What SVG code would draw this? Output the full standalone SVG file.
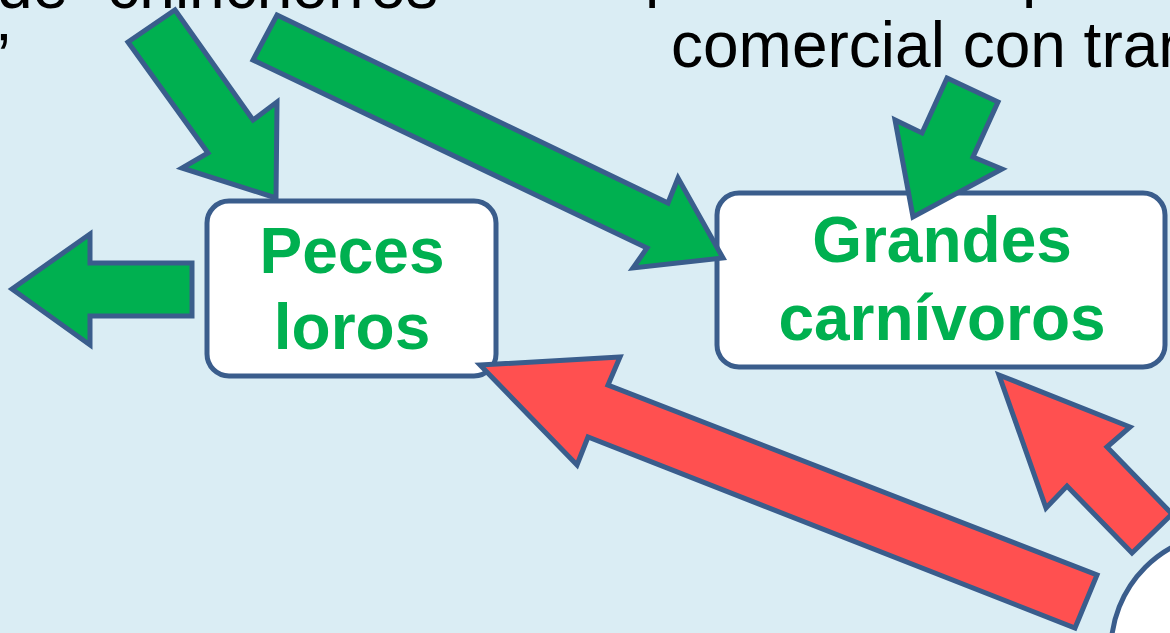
<svg xmlns="http://www.w3.org/2000/svg" width="1170" height="633" viewBox="0 0 1170 633">
<style>
.bg{fill:#DAEDF4}
.txt{font-family:"Liberation Sans",Arial,sans-serif;font-size:64px;fill:#000}
.box{fill:#FFFFFF;stroke:#3A5D8C;stroke-width:5}
.lbl{font-family:"Liberation Sans",Arial,sans-serif;font-size:64px;font-weight:bold;fill:#00B050;text-anchor:middle}
.ga{fill:#00B050;stroke:#3A5D8C;stroke-width:5;stroke-linejoin:miter}
.ra{fill:#FF5050;stroke:#3A5D8C;stroke-width:5;stroke-linejoin:miter}
</style>
<rect class="bg" x="0" y="0" width="1170" height="633"/>
<g id="text-top">
<text class="txt" x="-3" y="8">de “chinchorros”</text>
<text class="txt" x="-12" y="79">”</text>
<text class="txt" x="645" y="-5">p</text>
<text class="txt" x="1022" y="-5">p</text>
<text class="txt" x="671" y="67">comercial con tram</text>
</g>
<g id="node-peces-loros">
<rect class="box" x="207" y="201" width="289" height="175" rx="22"/>
<text class="lbl" x="352" y="273">Peces</text>
<text class="lbl" x="352" y="349">loros</text>
</g>
<g id="node-grandes-carnivoros">
<rect class="box" x="717" y="193" width="448" height="174" rx="22"/>
<text class="lbl" x="942" y="262">Grandes</text>
<text class="lbl" x="942" y="340">carnívoros</text>
</g>
<g id="node-circle">
<circle class="box" cx="1228" cy="650" r="117"/>
</g>
<g id="connectors">
<polygon class="ga" points="12,289 90,234 90,263 192,263 192,316 90,316 90,345"/>
<polygon class="ga" points="128,42 175,10 253,120 277,102 276,198 182,168 208,153"/>
<polygon class="ga" points="277,15 668,203 678,178 723,258 633,268 647,248 253,60"/>
<polygon class="ga" points="947,78 998,102 973,157 1002,169 913,217 895,120 922,133"/>
<polygon class="ra" points="480,365 620,357 608,385 1097,575 1075,628 588,437 577,465"/>
<polygon class="ra" points="999,375 1130,427 1107,447 1172,514 1132,553 1067,486 1046,508"/>
</g>
</svg>
